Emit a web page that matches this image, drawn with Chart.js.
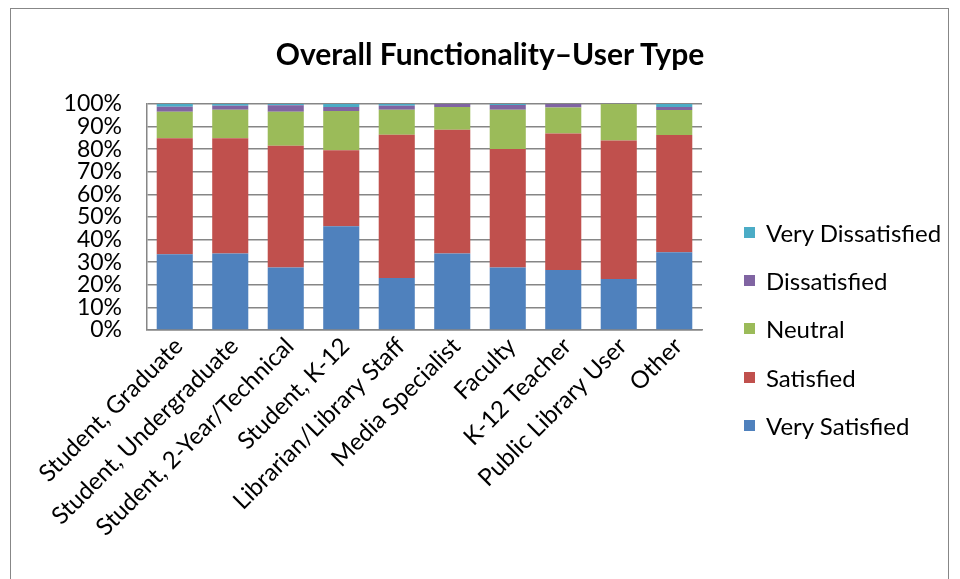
<!DOCTYPE html>
<html>
<head>
<meta charset="utf-8">
<script src="https://cdn.jsdelivr.net/npm/chart.js@4"></script>
<style>
  html, body { margin: 0; padding: 0; background: #fff; }
  #wrap { position: relative; width: 960px; height: 579px; overflow: hidden; font-family: Lato, 'Open Sans', sans-serif; }
  #frame { position: absolute; left: 10px; top: 8px; width: 939px; height: 600px; border: 1.5px solid #878787; box-sizing: border-box; }
  #title { position: absolute; left: 0; width: 980px; top: 35px; text-align: center; font-weight: bold; font-size: 30px; color: #000; }
  #legend { position: absolute; left: 744px; top: 208px; }
  .lg-item { display: flex; align-items: center; height: 48.3px; font-size: 24px; color: #000; }
  .lg-box { width: 11px; height: 11px; margin-right: 11px; }
  canvas { position: absolute; left: 0; top: 0; }
</style>
</head>
<body>
<div id="wrap">
  <div id="frame"></div>
  <canvas id="chart" width="960" height="579"></canvas>
  <div id="title">Overall Functionality–User Type</div>
  <div id="legend"></div>
</div>
<script>
const categories = ['Student, Graduate', 'Student, Undergraduate', 'Student, 2-Year/Technical', 'Student, K-12',
    'Librarian/Library Staff', 'Media Specialist', 'Faculty', 'K-12 Teacher', 'Public Library User', 'Other'];

const verySatisfied   = [33.5, 33.9, 27.7, 45.9, 23.0, 33.9, 27.7, 26.5, 22.6, 34.4];
const satisfied       = [51.3, 50.9, 53.8, 33.6, 63.4, 54.7, 52.4, 60.5, 61.2, 51.9];
const neutral         = [11.8, 12.7, 15.1, 17.4, 11.1, 10.1, 17.4, 11.4, 16.2, 11.0];
const dissatisfied    = [2.2, 1.7, 2.9, 1.8, 1.7, 1.3, 2.1, 1.6, 0, 1.4];
const veryDissatisfied = [1.2, 0.8, 0.5, 1.3, 0.8, 0, 0.4, 0, 0, 1.3];

const yTicks = [0, 10, 20, 30, 40, 50, 60, 70, 80, 90, 100];

const series = [
    { label: 'Very Satisfied', data: verySatisfied, color: '#4F81BD' },
    { label: 'Satisfied', data: satisfied, color: '#C0504D' },
    { label: 'Neutral', data: neutral, color: '#9BBB59' },
    { label: 'Dissatisfied', data: dissatisfied, color: '#8064A2' },
    { label: 'Very Dissatisfied', data: veryDissatisfied, color: '#4BACC6' }
];

const font = 'Lato, "Open Sans", sans-serif';

new Chart(document.getElementById('chart').getContext('2d'), {
    type: 'bar',
    data: {
        labels: categories,
        datasets: series.map(s => ({
            label: s.label,
            data: s.data,
            backgroundColor: s.color,
            borderWidth: 0,
            categoryPercentage: 0.65,
            barPercentage: 1
        }))
    },
    options: {
        responsive: false,
        animation: false,
        layout: { padding: { left: 0, right: 258, top: 104, bottom: 0 } },
        plugins: {
            legend: { display: false },
            title: { display: false },
            tooltip: { enabled: false }
        },
        scales: {
            x: {
                stacked: true,
                grid: { display: false, drawTicks: false },
                border: { color: '#868686', width: 1.5 },
                ticks: {
                    color: '#000',
                    font: { family: font, size: 24 },
                    maxRotation: 45,
                    minRotation: 45,
                    autoSkip: false,
                    padding: 2,
                    labelOffset: 4
                },
                afterFit: s => { s.height = 249; }
            },
            y: {
                stacked: true,
                min: 0,
                max: 100,
                afterBuildTicks: s => { s.ticks = yTicks.map(v => ({ value: v })); },
                grid: { color: '#868686', lineWidth: 1.5, drawTicks: false },
                border: { color: '#868686', width: 1.5 },
                ticks: {
                    color: '#000',
                    font: { family: font, size: 23 },
                    padding: 25,
                    autoSkip: false,
                    stepSize: 10,
                    callback: v => v + '%'
                },
                afterFit: s => { s.width = 147; }
            }
        }
    }
});

const legend = document.getElementById('legend');
series.slice().reverse().forEach(s => {
    const div = document.createElement('div');
    div.className = 'lg-item';
    div.innerHTML = `<div class="lg-box" style="background:${s.color}"></div><span>${s.label}</span>`;
    legend.appendChild(div);
});
</script>
</body>
</html>
